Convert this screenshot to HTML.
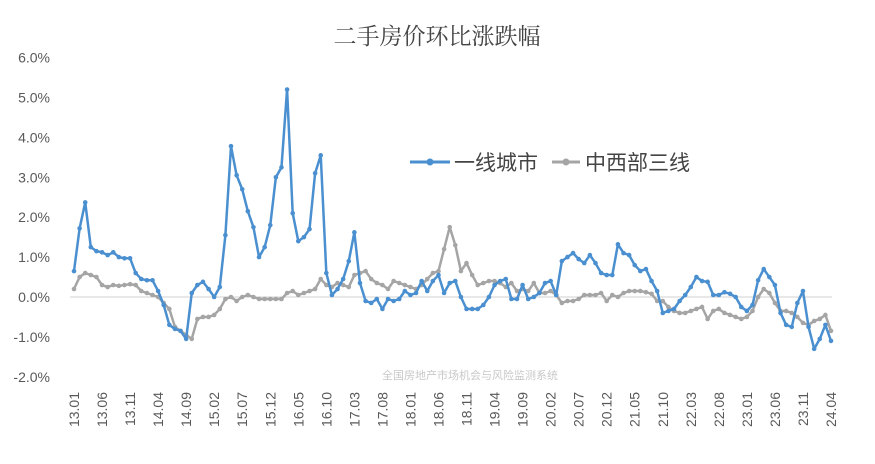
<!DOCTYPE html>
<html><head><meta charset="utf-8"><style>
body{margin:0;background:#fff;}
svg text{font-family:"Liberation Sans","Noto Sans CJK SC",sans-serif;}
</style></head><body>
<svg width="875" height="459" xmlns="http://www.w3.org/2000/svg">
<text x="437" y="44" text-anchor="middle" font-size="23" fill="#444" style="font-family:'Liberation Serif','Noto Serif CJK SC',serif">二手房价环比涨跌幅</text>
<g id="yaxis"></g><g id="xaxis"></g>
<line x1="70" x2="832" y1="297" y2="297" stroke="#d0d0d0" stroke-width="1"/>
<g id="plot"></g>
<text x="470" y="379" text-anchor="middle" font-size="11" fill="#c8c8c8">全国房地产市场机会与风险监测系统</text>
<g>
<line x1="410" x2="450" y1="162" y2="162" stroke="#4a8fcf" stroke-width="3"/><circle cx="430" cy="162" r="3.5" fill="#4a8fcf"/>
<text x="454" y="170" font-size="21" fill="#444">一线城市</text></g>
<g>
<line x1="552" x2="580" y1="162" y2="162" stroke="#a5a5a5" stroke-width="3"/><circle cx="566" cy="162" r="3.5" fill="#a5a5a5"/>
<text x="585" y="170" font-size="21" fill="#444">中西部三线</text></g>
</svg>
<script>
const yTicks=[6,5,4,3,2,1,0,-1,-2];
const startYear=13, startMonth=1;
const tier1=[0.65,1.72,2.37,1.25,1.15,1.12,1.05,1.12,1.0,0.97,0.97,0.6,
0.45,0.42,0.42,0.15,-0.2,-0.7,-0.8,-0.85,-1.05,0.1,0.3,0.38,
0.2,0.0,0.25,1.55,3.78,3.05,2.7,2.15,1.75,1.0,1.25,1.8,
3.0,3.25,5.2,2.1,1.4,1.5,1.7,3.1,3.55,0.6,0.05,0.2,
0.45,0.9,1.62,0.35,-0.1,-0.15,-0.05,-0.3,-0.05,-0.1,-0.05,0.15,
0.05,0.1,0.4,0.15,0.4,0.55,0.1,0.35,0.4,0.0,-0.3,-0.3,
-0.3,-0.2,0.0,0.3,0.4,0.45,-0.05,-0.05,0.3,-0.05,0.0,0.1,
0.35,0.4,0.05,0.9,1.0,1.1,0.95,0.85,1.05,0.85,0.6,0.55,
0.55,1.32,1.1,1.05,0.8,0.65,0.7,0.4,0.15,-0.4,-0.35,-0.3,
-0.1,0.05,0.25,0.5,0.4,0.38,0.05,0.05,0.12,0.08,0.0,-0.25,
-0.35,-0.2,0.42,0.7,0.5,0.3,-0.4,-0.7,-0.75,-0.15,0.15,-0.75,
-1.3,-1.05,-0.7,-1.1];
const midwest=[0.2,0.5,0.6,0.55,0.5,0.3,0.25,0.3,0.28,0.3,0.32,0.3,
0.15,0.1,0.05,0.0,-0.15,-0.3,-0.75,-0.85,-0.95,-1.05,-0.55,-0.5,
-0.5,-0.45,-0.3,-0.05,0.0,-0.1,0.0,0.05,0.0,-0.05,-0.05,-0.05,
-0.05,-0.05,0.1,0.15,0.05,0.1,0.15,0.2,0.45,0.3,0.25,0.35,
0.3,0.25,0.55,0.6,0.65,0.45,0.35,0.3,0.2,0.4,0.35,0.3,
0.25,0.2,0.3,0.45,0.6,0.65,1.2,1.75,1.3,0.65,0.85,0.55,
0.3,0.35,0.4,0.4,0.35,0.25,0.35,0.15,0.2,0.15,0.35,0.1,
0.1,0.15,0.05,-0.15,-0.1,-0.1,-0.05,0.05,0.05,0.05,0.1,-0.1,
0.05,0.0,0.1,0.15,0.15,0.15,0.12,0.08,-0.1,-0.1,-0.25,-0.35,
-0.4,-0.4,-0.35,-0.3,-0.25,-0.55,-0.35,-0.3,-0.4,-0.45,-0.5,-0.55,
-0.5,-0.35,0.0,0.2,0.1,-0.15,-0.35,-0.35,-0.4,-0.5,-0.65,-0.7,
-0.6,-0.55,-0.45,-0.85];
const NS="http://www.w3.org/2000/svg";
const n=tier1.length;
const xS=i=>74+i*(831-74)/(n-1);
const yS=v=>297-v*39.9;
const ya=document.getElementById('yaxis');
yTicks.forEach(t=>{const e=document.createElementNS(NS,'text');


e.setAttribute('x',50);e.setAttribute('y',yS(t)+5);e.setAttribute('text-anchor','end');
e.setAttribute('font-size','14');e.setAttribute('fill','#595959');e.textContent=t.toFixed(1)+'%';ya.appendChild(e);});
const xa=document.getElementById('xaxis');
for(let i=0;i<n;i+=5){const m=startMonth-1+i;const yy=startYear+Math.floor(m/12),mm=m%12+1;
const e=document.createElementNS(NS,'text');


const x=xS(i)+5,y=392;
e.setAttribute('transform',`translate(${x},${y}) rotate(-90)`);e.setAttribute('text-anchor','end');
e.setAttribute('font-size','14');e.setAttribute('fill','#595959');
e.textContent=yy+'.'+String(mm).padStart(2,'0');xa.appendChild(e);}
const plot=document.getElementById('plot');
function series(arr,color,name){const g=document.createElementNS(NS,'g');


const p=document.createElementNS(NS,'polyline');


p.setAttribute('points',arr.map((v,i)=>xS(i)+','+yS(v)).join(' '));
p.setAttribute('fill','none');p.setAttribute('stroke',color);p.setAttribute('stroke-width','2.5');p.setAttribute('stroke-linejoin','round');g.appendChild(p);
arr.forEach((v,i)=>{const c=document.createElementNS(NS,'circle');


c.setAttribute('cx',xS(i));c.setAttribute('cy',yS(v));c.setAttribute('r','2.3');c.setAttribute('fill',color);g.appendChild(c);});
plot.appendChild(g);}
series(midwest,'#a5a5a5','series-midwest-tier3');
series(tier1,'#4a8fcf','series-tier1');
</script>
</body></html>
